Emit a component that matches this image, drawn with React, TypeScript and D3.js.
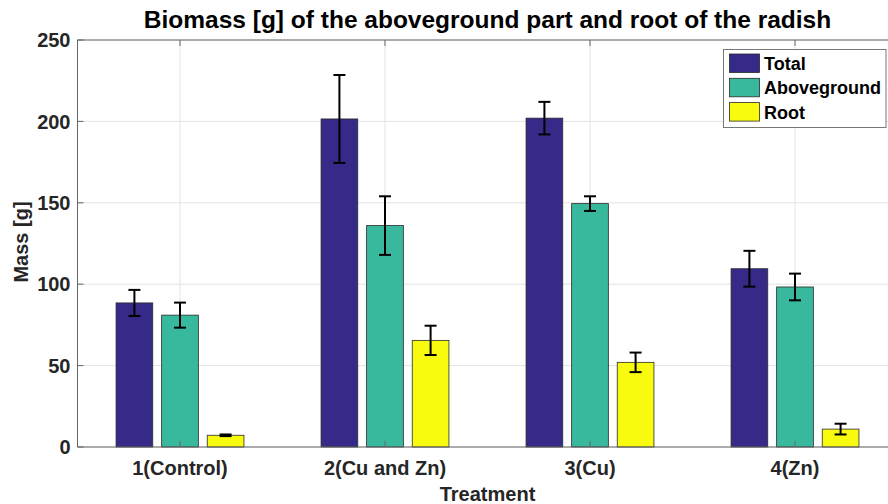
import React from "react";
import * as d3 from "d3";

// Treatment groups along the x axis
const treatments = ["1(Control)", "2(Cu and Zn)", "3(Cu)", "4(Zn)"];

// Series names and colours (parula-like)
const seriesNames = ["Total", "Aboveground", "Root"];
const seriesColors = ["#352a87", "#38b99e", "#f9fb0e"];

// Mean biomass [g] per treatment
const totalMass = [88.5, 201.5, 202, 109.5];
const abovegroundMass = [81, 136, 149.5, 98.3];
const rootMass = [7.2, 65.5, 52, 11];

// Standard deviations for the error bars
const totalErr = [8, 27, 10, 11];
const abovegroundErr = [7.7, 18, 4.5, 8.2];
const rootErr = [0.5, 9, 6, 3.3];

const yTicks = [0, 50, 100, 150, 200, 250];

const W = 888;
const H = 504;
const FONT = "'Liberation Sans', Arial, Helvetica, sans-serif";
const TEXT = "#262626";

export default function App() {
  const values = [totalMass, abovegroundMass, rootMass];
  const errors = [totalErr, abovegroundErr, rootErr];

  const x = d3.scaleLinear().domain([0.5, 4.5]).range([77.5, 897.5]);
  const y = d3.scaleLinear().domain([0, 250]).range([447, 40]);
  const step = x(2) - x(1);
  const inner = d3
    .scaleBand<string>()
    .domain(seriesNames)
    .range([-step * 0.3336, step * 0.3336])
    .paddingInner(0.195)
    .paddingOuter(0.0975);
  const bw = inner.bandwidth();
  const capHalf = 6;

  const left = x(0.5);
  const right = x(4.5);
  const top = y(250);
  const bottom = y(0);

  return (
    <div style={{ position: "absolute", left: 0, top: 0 }}>
      <svg width={W} height={H} style={{ display: "block", background: "#fff" }}>
        <rect x={0} y={0} width={W} height={H} fill="#fff" />
        {/* grid */}
        {yTicks.map((t) => (
          <line key={"gy" + t} x1={left} x2={right} y1={y(t)} y2={y(t)} stroke="#e3e3e3" strokeWidth={1} />
        ))}
        {treatments.map((_, i) => (
          <line key={"gx" + i} x1={x(i + 1)} x2={x(i + 1)} y1={top} y2={bottom} stroke="#e3e3e3" strokeWidth={1} />
        ))}

        {/* bars */}
        {seriesNames.map((s, si) =>
          values[si].map((v, i) => {
            const cx = x(i + 1) + (inner(s) as number);
            return (
              <rect
                key={s + i}
                x={cx}
                y={y(v)}
                width={bw}
                height={y(0) - y(v)}
                fill={seriesColors[si]}
                stroke="#2a2a2a"
                strokeWidth={0.8}
              />
            );
          })
        )}

        {/* error bars */}
        {seriesNames.map((s, si) =>
          values[si].map((v, i) => {
            const cx = x(i + 1) + (inner(s) as number) + bw / 2;
            const e = errors[si][i];
            const y1 = y(v + e);
            const y2 = y(v - e);
            return (
              <g key={"e" + s + i} stroke="#000" strokeWidth={2}>
                <line x1={cx} x2={cx} y1={y1} y2={y2} />
                <line x1={cx - capHalf} x2={cx + capHalf} y1={y1} y2={y1} />
                <line x1={cx - capHalf} x2={cx + capHalf} y1={y2} y2={y2} />
              </g>
            );
          })
        )}

        {/* axes box */}
        <line x1={left} x2={right} y1={top} y2={top} stroke="#666" strokeWidth={1} />
        <line x1={left} x2={right} y1={bottom} y2={bottom} stroke="#666" strokeWidth={1} />
        <line x1={left} x2={left} y1={top} y2={bottom} stroke="#666" strokeWidth={1} />
        {yTicks.map((t) => (
          <line key={"ty" + t} x1={left} x2={left + 6} y1={y(t)} y2={y(t)} stroke="#666" strokeWidth={1} />
        ))}
        {treatments.map((_, i) => (
          <g key={"tx" + i} stroke="#666" strokeWidth={1}>
            <line x1={x(i + 1)} x2={x(i + 1)} y1={bottom} y2={bottom - 6} />
            <line x1={x(i + 1)} x2={x(i + 1)} y1={top} y2={top + 6} />
          </g>
        ))}

        {/* tick labels */}
        {yTicks.map((t) => (
          <text
            key={"ly" + t}
            x={left - 7}
            y={y(t)}
            dy="0.36em"
            textAnchor="end"
            fontFamily={FONT}
            fontWeight="bold"
            fontSize={20}
            fill={TEXT}
          >
            {t}
          </text>
        ))}
        {treatments.map((c, i) => (
          <text
            key={"lx" + c}
            x={x(i + 1)}
            y={475}
            textAnchor="middle"
            fontFamily={FONT}
            fontWeight="bold"
            fontSize={20}
            fill={TEXT}
          >
            {c}
          </text>
        ))}

        {/* axis titles */}
        <text
          x={(left + right) / 2}
          y={501}
          textAnchor="middle"
          fontFamily={FONT}
          fontWeight="bold"
          fontSize={20}
          fill={TEXT}
        >
          Treatment
        </text>
        <text
          transform={`translate(27.5,242) rotate(-90)`}
          textAnchor="middle"
          fontFamily={FONT}
          fontWeight="bold"
          fontSize={20}
          fill={TEXT}
        >
          Mass [g]
        </text>
        <text
          x={(left + right) / 2}
          y={28}
          textAnchor="middle"
          fontFamily={FONT}
          fontWeight="bold"
          fontSize={24.5}
          fill="#000"
        >
          Biomass [g] of the aboveground part and root of the radish
        </text>

        {/* legend */}
        <g>
          <rect x={723.5} y={49.5} width={162.5} height={78} fill="#fff" stroke="#777" strokeWidth={1} />
          {seriesNames.map((s, si) => {
            const ry = 54 + si * 24.3;
            return (
              <g key={"lg" + s}>
                <rect x={729.5} y={ry} width={30} height={18.5} fill={seriesColors[si]} stroke="#2a2a2a" strokeWidth={0.8} />
                <text
                  x={764}
                  y={ry + 9.5}
                  dy="0.36em"
                  fontFamily={FONT}
                  fontWeight="bold"
                  fontSize={18}
                  fill="#000"
                >
                  {s}
                </text>
              </g>
            );
          })}
        </g>
      </svg>
    </div>
  );
}
